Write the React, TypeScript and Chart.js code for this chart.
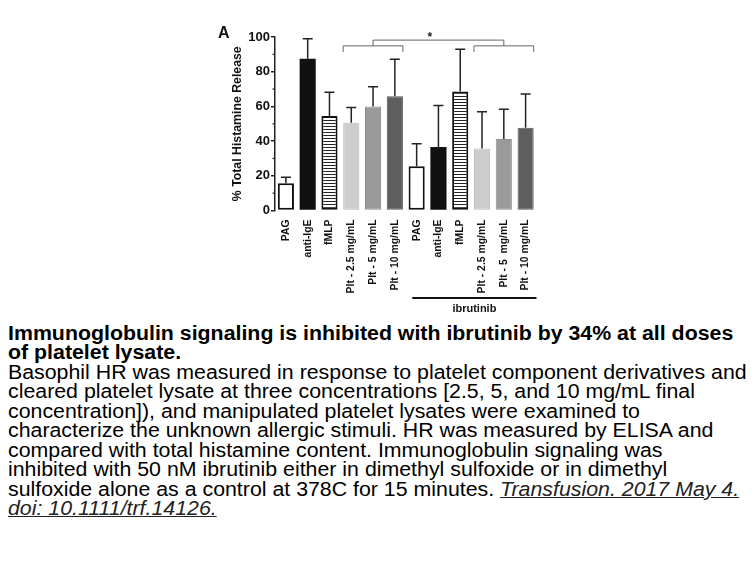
import React, { useEffect, useRef } from 'react';
import { Chart, registerables } from 'chart.js';

Chart.register(...registerables);

const categories = [
  'PAG', 'anti-IgE', 'fMLP', 'Plt - 2.5 mg/mL', 'Plt - 5 mg/mL', 'Plt - 10 mg/mL',
  'PAG', 'anti-IgE', 'fMLP', 'Plt - 2.5 mg/mL', 'Plt - 5  mg/mL', 'Plt - 10 mg/mL',
];
const means = [15.7, 87.5, 54.4, 50.6, 60.0, 65.9, 25.5, 36.6, 68.6, 35.8, 41.2, 47.7];
const errors = [3.5, 11.5, 13.8, 8.8, 11.3, 21.3, 13.0, 23.9, 24.3, 21.1, 17.2, 19.5];
const kinds = ['white', 'black', 'stripe', 'light', 'mid', 'dark', 'white', 'black', 'stripe', 'light', 'mid', 'dark'];
const yMin = 0;
const yMax = 100;
const yStep = 20;
const minorTicks = [10, 30, 50, 70, 90];
const bracketGroups = [[3, 5], [9, 11]];
const bracketLevels = { low: 91.4, mid: 94.9, top: 98.2, star: 100.8 };
const starIndex = 6.6;
const ibrutinibRange = [6, 11];

const captionTitle = [
  'Immunoglobulin signaling is inhibited with ibrutinib by 34% at all doses',
  'of platelet lysate.',
];
const captionBody = [
  'Basophil HR was measured in response to platelet component derivatives and',
  'cleared platelet lysate at three concentrations [2.5, 5, and 10 mg/mL final',
  'concentration]), and manipulated platelet lysates were examined to',
  'characterize the unknown allergic stimuli. HR was measured by ELISA and',
  'compared with total histamine content. Immunoglobulin signaling was',
  'inhibited with 50 nM ibrutinib either in dimethyl sulfoxide or in dimethyl',
];
const captionLast = 'sulfoxide alone as a control at 378C for 15 minutes. ';
const citation1 = 'Transfusion. 2017 May 4.';
const citation2 = 'doi: 10.1111/trf.14126.';

const FONT = "'Liberation Sans', Arial, Helvetica, sans-serif";

export default function App() {
  const ref = useRef<HTMLCanvasElement | null>(null);

  useEffect(() => {
    const canvas = ref.current;
    if (!canvas) return;

    const pc = document.createElement('canvas');
    pc.width = 4;
    pc.height = 3;
    const pctx = pc.getContext('2d')!;
    pctx.fillStyle = '#ffffff';
    pctx.fillRect(0, 0, 4, 3);
    pctx.fillStyle = '#222222';
    pctx.fillRect(0, 0, 4, 1);
    const stripe = canvas.getContext('2d')!.createPattern(pc, 'repeat');

    const fillMap: Record<string, any> = {
      white: '#ffffff', black: '#111111', stripe: stripe, light: '#cdcdcd', mid: '#9a9a9a', dark: '#5e5e5e',
    };
    const borderMap: Record<string, string> = {
      white: '#111111', black: '#111111', stripe: '#111111', light: '#bcbcbc', mid: '#8e8e8e', dark: '#555555',
    };
    const bwMap: Record<string, number> = { white: 2, black: 0, stripe: 2, light: 1, mid: 1, dark: 1 };

    const overlay = {
      id: 'overlay',
      afterDatasetsDraw(chart: any) {
        const ctx = chart.ctx;
        const xs = chart.scales.x;
        const ys = chart.scales.y;
        const area = chart.chartArea;
        const catW = (area.right - area.left) / categories.length;
        const half = catW * 0.74 / 2;
        ctx.save();
        // error bars
        ctx.strokeStyle = '#222';
        ctx.lineWidth = 1.5;
        means.forEach((m, i) => {
          const x = xs.getPixelForValue(i);
          const y0 = ys.getPixelForValue(m);
          const y1 = ys.getPixelForValue(m + errors[i]);
          ctx.beginPath();
          ctx.moveTo(x, y0);
          ctx.lineTo(x, y1);
          ctx.moveTo(x - 5, y1);
          ctx.lineTo(x + 5, y1);
          ctx.stroke();
        });
        // minor ticks
        ctx.lineWidth = 1.2;
        minorTicks.forEach((v) => {
          const y = ys.getPixelForValue(v);
          ctx.beginPath();
          ctx.moveTo(area.left - 2.5, y);
          ctx.lineTo(area.left, y);
          ctx.stroke();
        });
        // brackets
        ctx.strokeStyle = '#666';
        ctx.lineWidth = 1;
        const yLow = ys.getPixelForValue(bracketLevels.low);
        const yMid = ys.getPixelForValue(bracketLevels.mid);
        const yTop = ys.getPixelForValue(bracketLevels.top);
        const mids: number[] = [];
        bracketGroups.forEach(([a, b]) => {
          const x0 = xs.getPixelForValue(a) - half;
          const x1 = xs.getPixelForValue(b) + half;
          ctx.beginPath();
          ctx.moveTo(x0, yLow);
          ctx.lineTo(x0, yMid);
          ctx.lineTo(x1, yMid);
          ctx.lineTo(x1, yLow);
          ctx.stroke();
          mids.push((x0 + x1) / 2);
        });
        ctx.beginPath();
        ctx.moveTo(mids[0], yMid);
        ctx.lineTo(mids[0], yTop);
        ctx.lineTo(mids[1], yTop);
        ctx.lineTo(mids[1], yMid);
        ctx.stroke();
        ctx.fillStyle = '#222';
        ctx.font = `bold 12px ${FONT}`;
        ctx.textAlign = 'center';
        ctx.textBaseline = 'middle';
        ctx.fillText('*', xs.getPixelForValue(starIndex), ys.getPixelForValue(bracketLevels.star) + 2);
        // ibrutinib bar
        const ix0 = xs.getPixelForValue(ibrutinibRange[0]) - catW * 0.2;
        const ix1 = xs.getPixelForValue(ibrutinibRange[1]) + catW * 0.5;
        const iy = area.bottom + 87.5;
        ctx.strokeStyle = '#111';
        ctx.lineWidth = 2;
        ctx.beginPath();
        ctx.moveTo(ix0, iy);
        ctx.lineTo(ix1, iy);
        ctx.stroke();
        ctx.fillStyle = '#111';
        ctx.font = `bold 11px ${FONT}`;
        ctx.fillText('ibrutinib', (ix0 + ix1) / 2, iy + 11);
        // panel letter
        ctx.font = `bold 16px ${FONT}`;
        ctx.textAlign = 'left';
        ctx.fillText('A', area.left - 57, area.top - 3);
        ctx.restore();
      },
    };

    const chart = new Chart(canvas, {
      type: 'bar',
      data: {
        labels: categories,
        datasets: [
          {
            data: means,
            backgroundColor: kinds.map((k) => fillMap[k]),
            borderColor: kinds.map((k) => borderMap[k]),
            borderWidth: kinds.map((k) => bwMap[k]),
            borderSkipped: false,
            barPercentage: 0.74,
            categoryPercentage: 1,
          },
        ],
      },
      options: {
        animation: false,
        responsive: false,
        maintainAspectRatio: false,
        layout: { padding: { left: 226, right: 219.5, top: 37, bottom: 0 } },
        plugins: { legend: { display: false }, tooltip: { enabled: false } },
        scales: {
          x: {
            grid: { display: false },
            border: { display: false },
            ticks: {
              autoSkip: false,
              minRotation: 90,
              maxRotation: 90,
              padding: 1,
              color: '#111',
              font: { family: FONT, weight: 'bold', size: 10.4 },
            },
            afterFit: (s: any) => { s.height = 107.5; },
          },
          y: {
            min: yMin,
            max: yMax,
            ticks: {
              stepSize: yStep,
              padding: 1,
              color: '#111',
              font: { family: FONT, weight: 'bold', size: 13 },
            },
            grid: { drawOnChartArea: false, tickLength: 4, color: '#222', lineWidth: 1.5 },
            border: { color: '#222', width: 1.5 },
            title: {
              display: true,
              text: '% Total Histamine Release',
              color: '#111',
              font: { family: FONT, weight: 'bold', size: 12.3 },
              padding: { top: 4, bottom: 0 },
            },
            afterFit: (s: any) => { s.width = 49; },
          },
        },
      },
      plugins: [overlay],
    } as any);

    return () => chart.destroy();
  }, []);

  const lineStyle: React.CSSProperties = { height: '19.5px', lineHeight: '19.5px', whiteSpace: 'pre' };

  return (
    <div style={{ position: 'absolute', left: 0, top: 0, width: 756, height: 567, background: '#fff', overflow: 'hidden' }}>
      <canvas ref={ref} width={756} height={318} style={{ position: 'absolute', left: 0, top: 0, width: 756, height: 318 }} />
      <div
        style={{
          position: 'absolute', left: 8, top: 323.5, fontFamily: FONT, fontSize: '19.4px', color: '#000',
          transform: 'scaleX(1.1)', transformOrigin: '0 0',
        }}
      >
        {captionTitle.map((t, i) => (
          <div key={'t' + i} style={{ ...lineStyle, fontWeight: 'bold' }}>{t}</div>
        ))}
        {captionBody.map((t, i) => (
          <div key={'b' + i} style={lineStyle}>{t}</div>
        ))}
        <div style={lineStyle}>
          {captionLast}
          <span style={{ fontStyle: 'italic', textDecoration: 'underline', color: '#222' }}>{citation1}</span>
        </div>
        <div style={lineStyle}>
          <span style={{ fontStyle: 'italic', textDecoration: 'underline', color: '#222' }}>{citation2}</span>
        </div>
      </div>
    </div>
  );
}
